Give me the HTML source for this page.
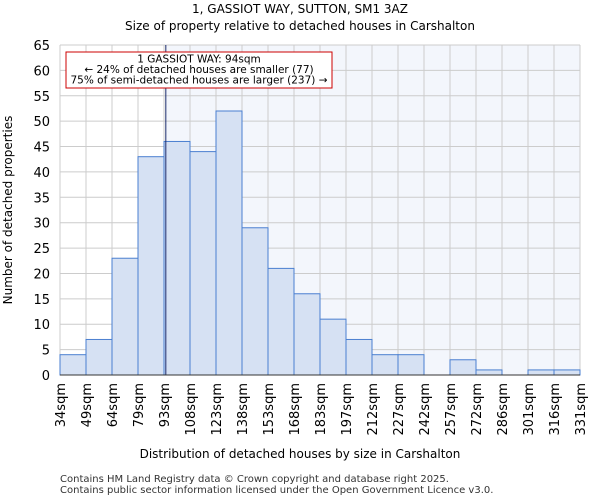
<!DOCTYPE html>
<html><head><meta charset="utf-8"><style>
body{margin:0;background:#fff;font-family:"DejaVu Sans","Liberation Sans",sans-serif}
svg text{font-family:"DejaVu Sans","Liberation Sans",sans-serif}
</style></head><body>
<svg id="c" width="600" height="500" xmlns="http://www.w3.org/2000/svg">
<text x="300" y="13" text-anchor="middle" font-size="12">1, GASSIOT WAY, SUTTON, SM1 3AZ</text>
<text x="300" y="30" text-anchor="middle" font-size="12">Size of property relative to detached houses in Carshalton</text>
<g id="g"></g>
<text x="300" y="458" text-anchor="middle" font-size="12">Distribution of detached houses by size in Carshalton</text>
<text x="12" y="210" text-anchor="middle" font-size="12" transform="rotate(-90 12 210)">Number of detached properties</text>
<text x="60" y="482" font-size="10" fill="#333">Contains HM Land Registry data © Crown copyright and database right 2025.</text>
<text x="60" y="493" font-size="10" fill="#333">Contains public sector information licensed under the Open Government Licence v3.0.</text>
</svg>
<script>
const labels=["34sqm","49sqm","64sqm","79sqm","93sqm","108sqm","123sqm","138sqm","153sqm","168sqm","183sqm","197sqm","212sqm","227sqm","242sqm","257sqm","272sqm","286sqm","301sqm","316sqm","331sqm"];
const counts=[4,7,23,43,46,44,52,29,21,16,11,7,4,4,0,3,1,0,1,1];
const yTicks=[0,5,10,15,20,25,30,35,40,45,50,55,60,65];
const markerBin=4.07;
const NS="http://www.w3.org/2000/svg";
const g=document.getElementById('g');
const x0=60,x1=580,yTop=45,yBot=375,yMax=65;
const bw=(x1-x0)/counts.length;
const X=i=>x0+i*bw, Y=v=>yBot-(v/yMax)*(yBot-yTop);
function mk(t,a){const e=document.createElementNS(NS,t);for(const k in a)e.setAttribute(k,a[k]);g.appendChild(e);return e;}
const mx=X(markerBin);
let e;
e=mk('rect',{x:mx,y:yTop,width:x1-mx,height:yBot-yTop,fill:'#f3f6fc'});


yTicks.forEach(v=>{
 e=mk('line',{x1:x0,x2:x1,y1:Y(v),y2:Y(v),stroke:'#ccc','stroke-width':1});
 
 
 e=mk('text',{x:x0-10,y:Y(v)+5,'text-anchor':'end','font-size':13});
 e.textContent=v;
 
 
});
labels.forEach((l,i)=>{
 e=mk('line',{x1:X(i),x2:X(i),y1:yTop,y2:yBot,stroke:'#ccc','stroke-width':1});
 
 
 e=mk('text',{x:X(i)+5,y:yBot+8,'text-anchor':'end','font-size':13,transform:`rotate(-90 ${X(i)+5} ${yBot+8})`});
 e.textContent=l;
 
 
});
counts.forEach((v,i)=>{
 if(v<=0)return;
 e=mk('rect',{x:X(i),y:Y(v),width:bw,height:yBot-Y(v),fill:'#d6e1f3',stroke:'#4a7fd0','stroke-width':1});
 
 
});
e=mk('line',{x1:mx,x2:mx,y1:yTop,y2:yBot,stroke:'#1a2a6c','stroke-width':1});


e=mk('line',{x1:x0,x2:x1,y1:yBot,y2:yBot,stroke:'#333'});


e=mk('rect',{x:66,y:52,width:266,height:36,fill:'#fff',stroke:'#c00','stroke-width':1});


["1 GASSIOT WAY: 94sqm","← 24% of detached houses are smaller (77)","75% of semi-detached houses are larger (237) →"].forEach((t,i)=>{
 e=mk('text',{x:199,y:62.5+i*10.5,'text-anchor':'middle','font-size':10.5});
 e.textContent=t;
 
 
});
</script>
</body></html>
